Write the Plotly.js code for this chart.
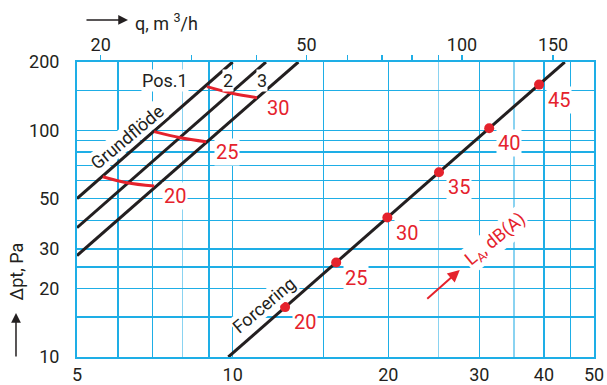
<!DOCTYPE html>
<html>
<head>
<meta charset="utf-8">
<script src="https://cdn.plot.ly/plotly-3.0.1.min.js"></script>
<style>
  html, body { margin: 0; padding: 0; background: white; }
  #plot { width: 607px; height: 385px; }
</style>
</head>
<body>
<div id="plot"></div>
<script>
// flow q in l/s (bottom), pressure drop in Pa
const pos1_q  = [ 5, 10 ];
const pos1_dp = [ 50, 200 ];
const pos2_q  = [ 5, 11.6 ];
const pos2_dp = [ 37.2, 200 ];
const pos3_q  = [ 5, 13.4 ];
const pos3_dp = [ 28, 200 ];
const forc_q  = [ 9.81, 43.9 ];
const forc_dp = [ 10, 200 ];

// constant sound level curves across Pos.1-3
const curve_levels = [ '20', '25', '30' ];
const curve_q  = [ [ 5.61, 6.24, 7.05 ], [ 7.05, 7.92, 8.89 ], [ 8.92, 9.97, 11.15 ] ];
const curve_dp = [ [ 62.4, 58.7, 56.8 ], [ 98.6, 92.7, 89.0 ], [ 155.7, 145.6, 139.2 ] ];

// sound level dots on the forcing line
const forc_levels = [ '20', '25', '30', '35', '40', '45' ];
const forc_dot_q  = [ 12.63, 15.86, 19.92, 25.07, 31.35, 39.15 ];
const forc_dot_dp = [ 16.6, 26.1, 41.2, 65.3, 102, 159 ];

const x_ticks    = [ 5, 6, 7, 9, 10, 15, 20, 30, 40, 45, 50 ];
const x_ticktext = [ '5', '', '', '', '10', '', '20', '30', '40', '', '50' ];
const x_light    = [ 8, 25, 35 ];
const y_ticks    = [ 10, 15, 20, 25, 30, 40, 50, 60, 70, 80, 90, 100, 150, 200 ];
const y_ticktext = [ '10', '', '20', '', '30', '', '50', '', '', '', '', '100', '', '200' ];
const q_ticks    = [ 20, 30, 40, 50, 60, 70, 80, 90, 100, 150 ];
const q_ticktext = [ '20', '', '', '50', '', '', '', '', '100', '150' ];
const LS_TO_M3H  = 3.6;

const FONT       = 'Roboto, sans-serif';
const BLUE       = '#1eaee6';
const LIGHT_BLUE = '#8ad3f1';
const RED        = '#e5222c';
const INK        = '#231f20';

function black_line( q, dp ) {
	return { x: q, y: dp, mode: 'lines', type: 'scatter',
		line: { color: INK, width: 3 }, hoverinfo: 'skip' };
}

let traces = [
	black_line( pos1_q, pos1_dp ),
	black_line( pos2_q, pos2_dp ),
	black_line( pos3_q, pos3_dp )
];
for ( let i = 0; i < curve_q.length; i++ ) {
	traces.push( { x: curve_q[ i ], y: curve_dp[ i ], mode: 'lines', type: 'scatter',
		line: { color: RED, width: 3, shape: 'spline' } } );
}
// forcing line and its dots go on the top axis (m3/h)
traces.push( { ...black_line( forc_q.map( v => v * LS_TO_M3H ), forc_dp ), xaxis: 'x2' } );
traces.push( { x: forc_dot_q.map( v => v * LS_TO_M3H ), y: forc_dot_dp, xaxis: 'x2',
	mode: 'markers', type: 'scatter', marker: { color: RED, size: 10 } } );

function red_label( x, y, text, dx, dy ) {
	return { x: Math.log10( x ), y: Math.log10( y ), text: text, showarrow: false,
		xshift: dx, yshift: dy, bgcolor: 'white', borderpad: 1,
		font: { family: FONT, size: 20, color: RED } };
}
function ink_text( x, y, text, angle ) {
	return { x: Math.log10( x ), y: Math.log10( y ), text: text, showarrow: false,
		textangle: angle, bgcolor: 'white', borderpad: 0,
		font: { family: FONT, size: 18, color: INK } };
}

let annotations = [];
for ( let i = 0; i < curve_levels.length; i++ ) {
	annotations.push( red_label( curve_q[ i ][ 2 ], curve_dp[ i ][ 2 ], curve_levels[ i ], 21, -10 ) );
}
for ( let i = 0; i < forc_levels.length; i++ ) {
	annotations.push( red_label( forc_dot_q[ i ], forc_dot_dp[ i ], forc_levels[ i ], 20, -15 ) );
}
annotations.push( ink_text( 7.40, 165, 'Pos.1', 0 ) );
annotations.push( ink_text( 9.80, 165, '2', 0 ) );
annotations.push( ink_text( 11.40, 165, '3', 0 ) );
annotations.push( ink_text( 6.27, 93.4, 'Grundflöde', -40 ) );
annotations.push( ink_text( 11.45, 16.95, 'Forcering', -40 ) );
annotations.push( { x: Math.log10( 32.2 ), y: Math.log10( 32.8 ), showarrow: false,
	text: 'L<sub>A</sub>, dB(A)', textangle: -39, bgcolor: 'white', borderpad: 1,
	font: { family: FONT, size: 18, color: RED } } );
annotations.push( { x: Math.log10( 27.5 ), y: Math.log10( 24.2 ), text: '', showarrow: true,
	ax: -34, ay: 30, arrowhead: 2, arrowsize: 1.2, arrowwidth: 2, arrowcolor: RED, standoff: 0 } );

// axis titles with arrows
annotations.push( { xref: 'paper', yref: 'paper', x: 0.0986, y: 1.1424, text: '', showarrow: true,
	ax: -43, ay: 0, arrowhead: 2, arrowsize: 1.3, arrowwidth: 1.5, arrowcolor: INK, standoff: 0 } );
annotations.push( { xref: 'paper', yref: 'paper', x: 0.108, y: 1.1356, xanchor: 'left', yanchor: 'middle',
	text: 'q, m <sup>3</sup>/h', showarrow: false, font: { family: FONT, size: 18, color: INK } } );
annotations.push( { xref: 'paper', yref: 'paper', x: -0.118, y: 0.29, xanchor: 'center', yanchor: 'middle',
	text: 'Δpt, Pa', textangle: -90, showarrow: false, font: { family: FONT, size: 18, color: INK } } );
annotations.push( { xref: 'paper', yref: 'paper', x: -0.118, y: 0.149, text: '', showarrow: true,
	ax: 0, ay: 45, arrowhead: 2, arrowsize: 1.3, arrowwidth: 1.5, arrowcolor: INK, standoff: 0 } );

let layout = {
	width        : 607,
	height       : 385,
	showlegend   : false,
	paper_bgcolor: 'white',
	plot_bgcolor : 'white',
	margin       : { l: 77, r: 13, t: 62, b: 28, pad: 0 },
	font         : { family: FONT, size: 18, color: INK },
	xaxis: {
		type: 'log', range: [ Math.log10( 5 ), Math.log10( 50 ) ],
		tickmode: 'array', tickvals: x_ticks, ticktext: x_ticktext,
		showgrid: true, gridcolor: BLUE, gridwidth: 1.5, ticks: '',
		ticklabelstandoff: 0, zeroline: false,
		showline: true, mirror: true, linecolor: BLUE, linewidth: 2,
		minor: { tickmode: 'array', tickvals: x_light, showgrid: true,
			gridcolor: LIGHT_BLUE, gridwidth: 1.5, ticks: '' }
	},
	xaxis2: {
		type: 'log', range: [ Math.log10( 18 ), Math.log10( 180 ) ],
		overlaying: 'x', side: 'top', anchor: 'y',
		tickmode: 'array', tickvals: q_ticks, ticktext: q_ticktext,
		ticks: 'outside', ticklen: 6, tickwidth: 1.5, tickcolor: BLUE,
		showgrid: false, zeroline: false, showline: false, ticklabelstandoff: -3
	},
	yaxis: {
		type: 'log', range: [ 1, Math.log10( 200 ) ],
		tickmode: 'array', tickvals: y_ticks, ticktext: y_ticktext,
		showgrid: true, gridcolor: BLUE, gridwidth: 1.5, ticks: '',
		ticklabelstandoff: 12, zeroline: false,
		showline: true, mirror: true, linecolor: BLUE, linewidth: 2
	},
	annotations: annotations
};

Plotly.newPlot( 'plot', traces, layout, { staticPlot: true } );
</script>
</body>
</html>
